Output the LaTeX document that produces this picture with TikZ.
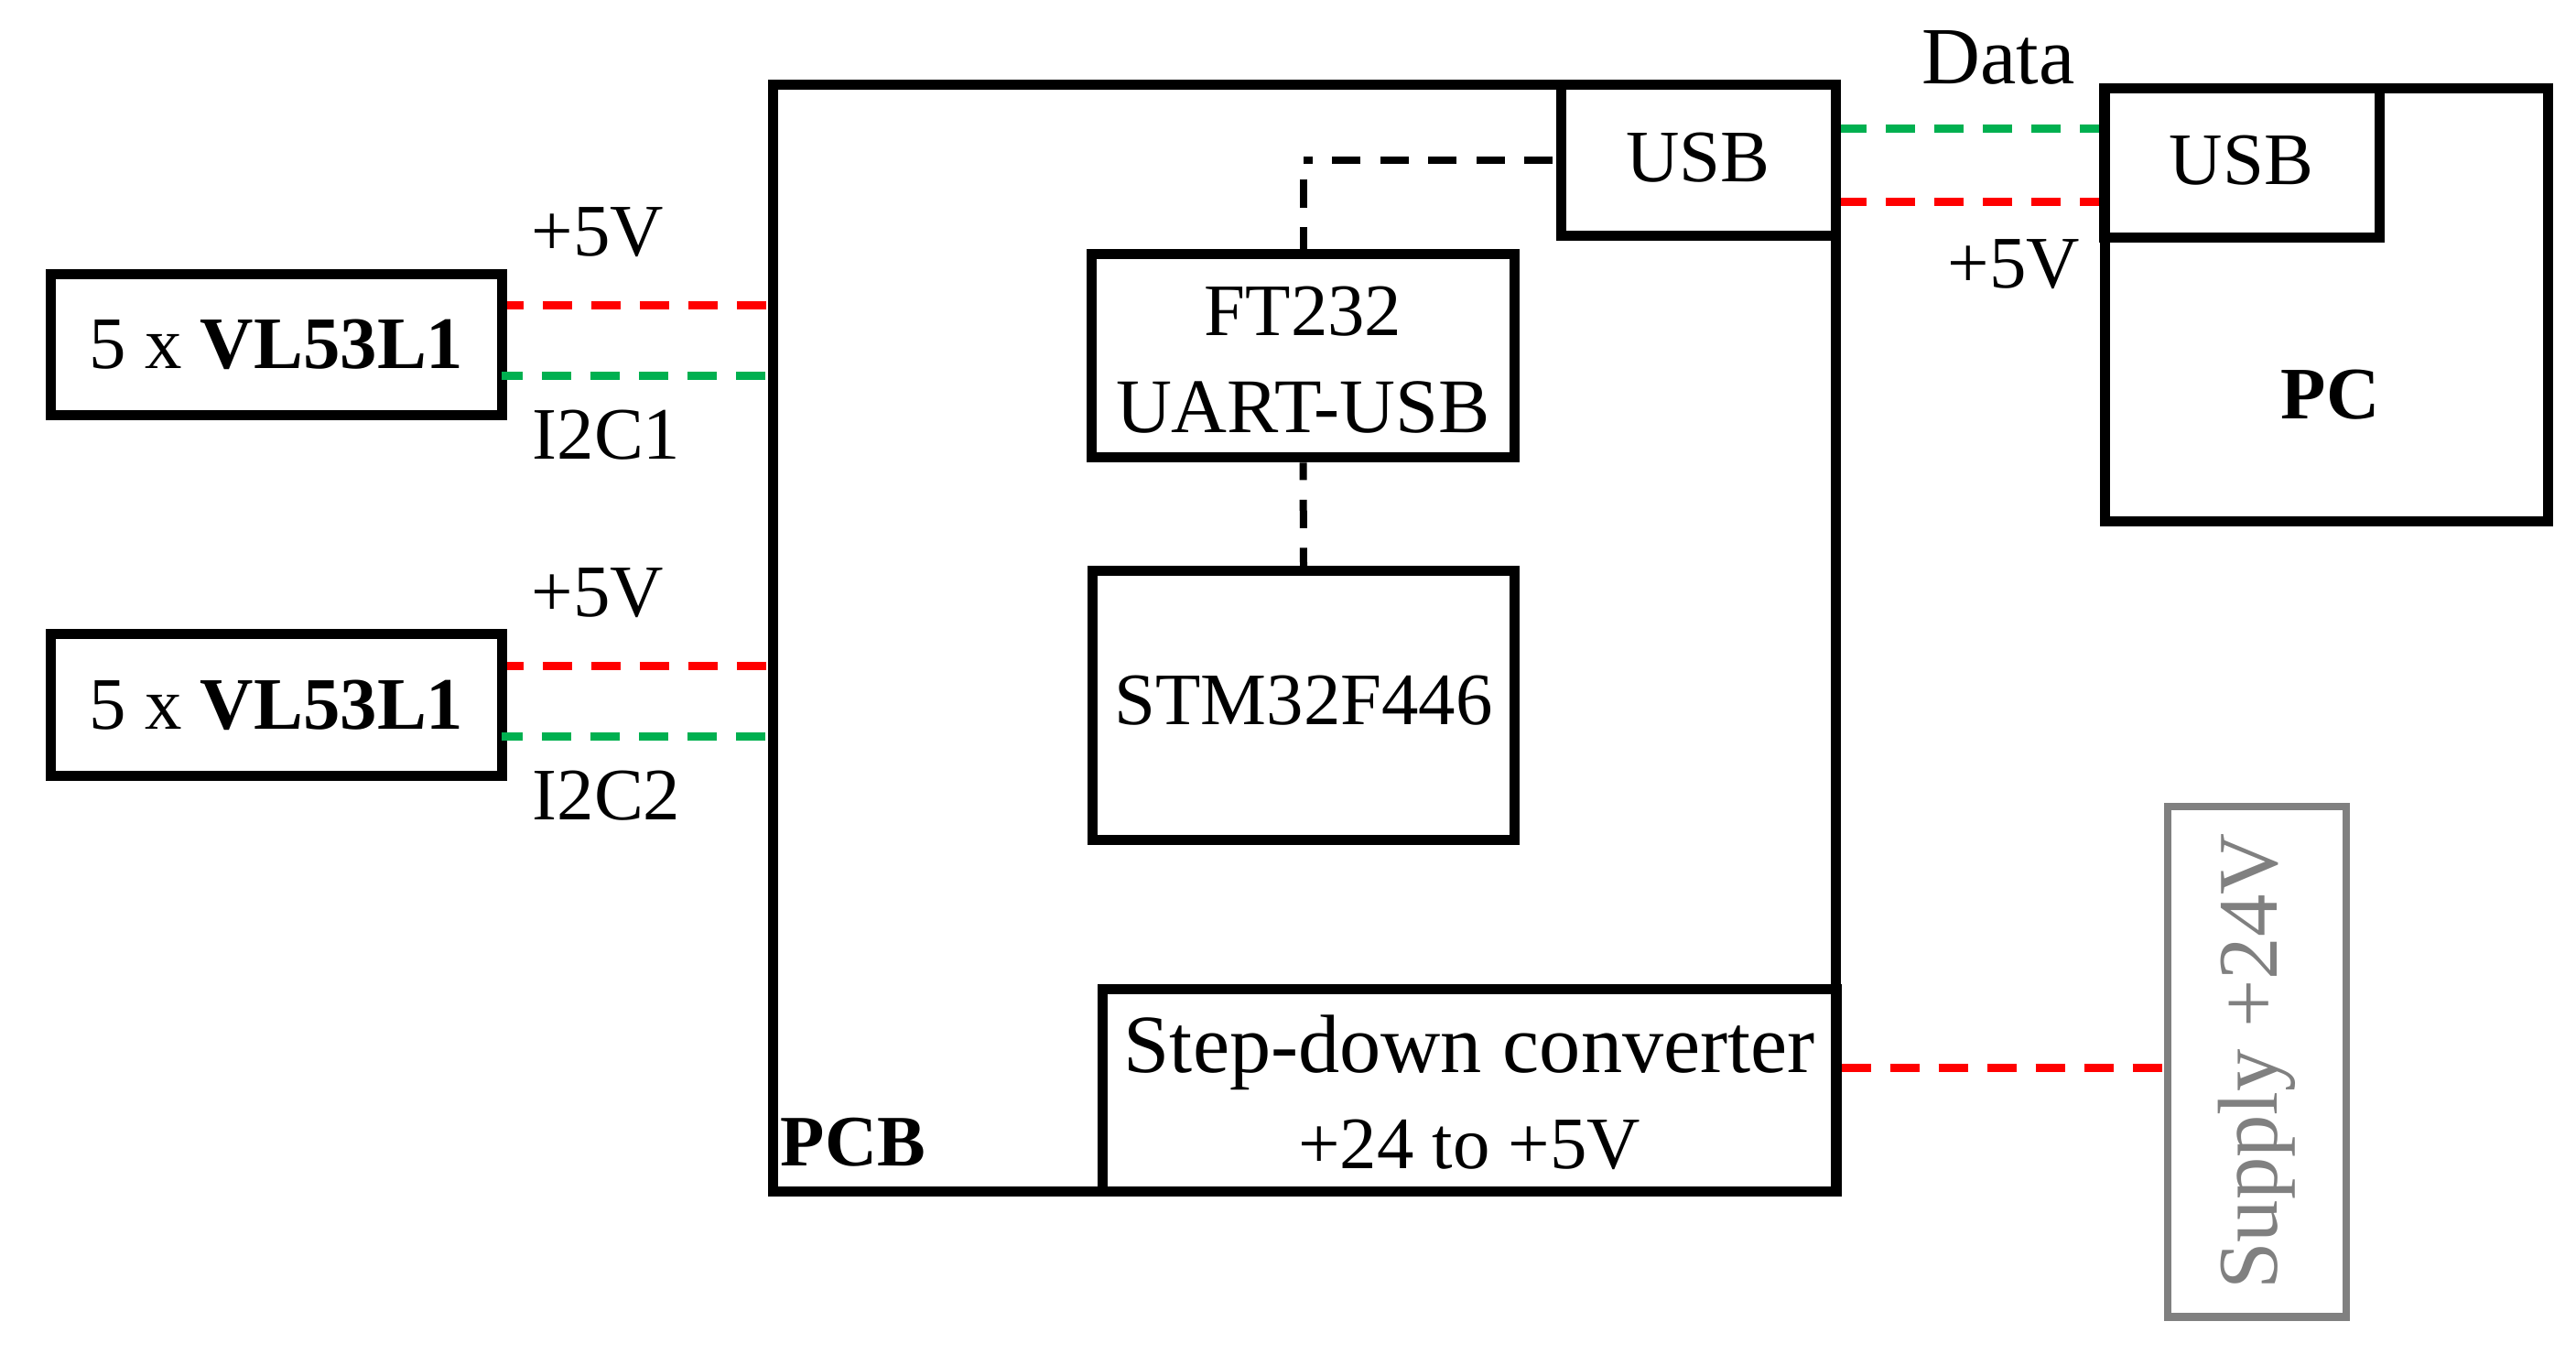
\documentclass[tikz,border=0pt]{standalone}
\usepackage{fontspec}
\usepackage{graphicx}
\setmainfont{Liberation Serif}
\definecolor{linkgreen}{HTML}{00B050}
\definecolor{supplygrey}{HTML}{808080}
\tikzset{
  every node/.style={font=\fontsize{23}{30}\selectfont},
  blockbox/.style={draw,line width=1.1mm,inner sep=0pt,align=center},
  greybox/.style={draw=supplygrey,text=supplygrey,line width=0.85mm,inner sep=0pt},
  lbl/.style={anchor=base west,inner sep=0pt},
  link/.style={line width=0.9mm,dash pattern=on 3.2mm off 2.1mm},
  ctrl/.style={line width=0.8mm,dash pattern=on 3.1mm off 2.15mm},
}
\begin{document}
\begin{tikzpicture}
  \useasboundingbox (0,0) rectangle (28.14,14.79);

  \node[blockbox,minimum width=11.605cm,minimum height=12.09cm] (pcb) at (14.2475,7.815) {};
  \node[lbl,font=\fontsize{22.5}{30}\selectfont\bfseries] (pcbname) at (8.52,2.05) {PCB};
  \node[blockbox,text depth=0.7mm,minimum width=3cm,minimum height=1.645cm] (usb1) at (18.55,13.0375) {USB};
  \node[blockbox,text height=16.7mm,minimum width=4.62cm,minimum height=2.22cm] (ft) at (14.235,10.9)
    {FT232\\{\fontsize{24}{30}\selectfont UART-USB}};
  \node[blockbox,text depth=1.1mm,minimum width=4.61cm,minimum height=2.945cm] (stm) at (14.24,7.0825) {STM32F446};
  \node[blockbox,text height=17.2mm,minimum width=8.015cm,minimum height=2.21cm] (step) at (16.0525,2.875)
    {{\fontsize{25.7}{30}\selectfont Step-down converter}\\+24 to +5V};

  \node[blockbox,minimum width=4.845cm,minimum height=4.73cm] (pc) at (25.4125,11.455) {};
  \node[lbl,font=\fontsize{23}{30}\selectfont\bfseries] (pcname) at (24.91,10.21) {PC};
  \node[blockbox,text depth=0.7mm,minimum width=3.01cm,minimum height=1.63cm] (usb2) at (24.485,13.005) {USB};
  \node[greybox,font=\fontsize{26.4}{30}\selectfont,minimum width=1.95cm,minimum height=5.575cm] (supply) at (24.655,3.1925)
    {\rotatebox{90}{Supply +24V}};

  \foreach \n/\y in {1/11.026,2/7.087} {
    \node[blockbox,minimum width=4.935cm,minimum height=1.547cm] (vl\n) at (3.02,\y)
      {5 x \textbf{VL53L1}};
    \node[lbl] (pw\n) at (5.80,\y+0.97) {+5V};
    \node[lbl] (bus\n) at (5.81,\y-1.255) {I2C\n};
    \draw[link,red,dash phase=1.4mm,shorten >=0.2mm]
      ([yshift=4.26mm]vl\n.east) -- ([yshift=4.26mm]vl\n.east -| pcb.west);
    \draw[link,linkgreen,dash phase=0.9mm,shorten <=-0.6mm,shorten >=0.2mm]
      ([yshift=-3.46mm]vl\n.east) -- ([yshift=-3.46mm]vl\n.east -| pcb.west);
  }

  \node[lbl,font=\fontsize{25.2}{30}\selectfont] (data) at (20.99,13.875) {Data};
  \node[lbl] (pw3) at (21.27,11.64) {+5V};
  \draw[link,linkgreen,dash phase=0.34mm]
    ([yshift=3.48mm]usb1.east) -- ([yshift=3.48mm]usb1.east -| usb2.west);
  \draw[link,red,dash phase=0.34mm]
    ([yshift=-4.56mm]usb1.east) -- ([yshift=-4.56mm]usb1.east -| usb2.west);
  \draw[link,red,shorten >=0.15mm]
    ([yshift=2.45mm]step.east) -- ([yshift=2.45mm]step.east -| supply.west);

  \coordinate (bend) at (usb1.west -| ft.north);
  \draw[ctrl,shorten <=0.35mm] (usb1.west) -- (bend);
  \draw[ctrl,dash phase=0.7mm] (ft.north) -- (bend);
  \draw[ctrl,dash phase=1.2mm] (ft.south) -- (stm.north);
\end{tikzpicture}
\end{document}
